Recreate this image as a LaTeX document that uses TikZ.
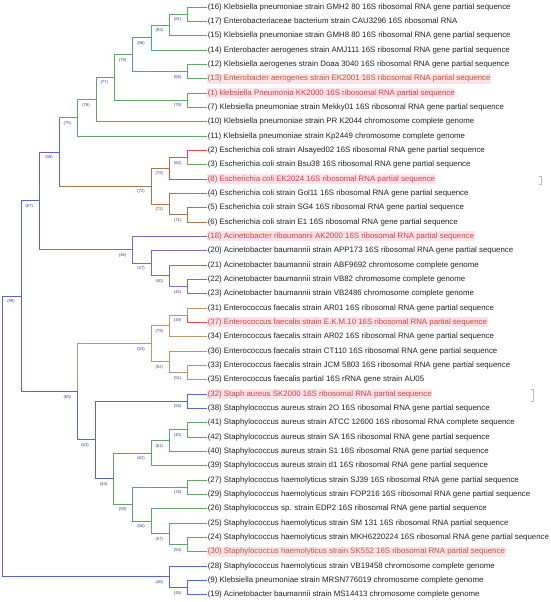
\documentclass[tikz,border=0pt]{standalone}
\usepackage{fontspec}
\setmainfont{Liberation Sans}
\newfontfamily\lsans{Liberation Sans}
\definecolor{cgreen}{RGB}{96,165,104}
\definecolor{cblue}{RGB}{86,104,205}
\definecolor{cpurple}{RGB}{128,106,190}
\definecolor{cbrown}{RGB}{168,118,78}
\definecolor{ctan}{RGB}{190,150,115}
\definecolor{cred}{RGB}{230,70,70}
\definecolor{txtblack}{RGB}{34,34,34}
\definecolor{txtred}{RGB}{224,62,62}
\definecolor{txtbrown}{RGB}{196,86,52}
\definecolor{hlpink}{RGB}{253,228,234}
\definecolor{bscol}{RGB}{60,60,170}
\newcommand{\edg}[3]{\draw[br,#3] (#1) |- (#2);}
\newcommand{\edgvh}[4]{\draw[br,#3] (#1) -- (#1 |- #2); \draw[br,#4] (#1 |- #2) -- (#2);}
\newcommand{\bsl}[2]{\node[bs] (bs#1) at ([shift={(-10,5.5)}]#1) {(#2)};}
\tikzset{
  leaf/.style={anchor=west, inner xsep=0.6pt, inner ysep=0pt, minimum height=10pt,
    font=\lsans\fontsize{7.85}{9}\selectfont, text=txtblack},
  hlr/.style={leaf, fill=hlpink, text=txtred},
  hlb/.style={leaf, fill=hlpink, text=txtbrown},
  bs/.style={font=\lsans\fontsize{4.2}{5}\selectfont, text=bscol, inner sep=0pt},
  br/.style={line width=0.9pt, line cap=rect},
  faintmark/.style={draw=gray!55, line width=0.5pt}
}
\begin{document}
\begin{tikzpicture}[x=1pt,y=-1pt]
\useasboundingbox (0,0) rectangle (550,602);
% ---------- leaves ----------
\node[leaf] (L16) at (207,7) {(16) Klebsiella pneumoniae strain GMH2 80 16S ribosomal RNA gene partial sequence};
\node[leaf] (L17) at (207,21.333) {(17) Enterobacteriaceae bacterium strain CAU3296 16S ribosomal RNA};
\node[leaf] (L15) at (207,35.667) {(15) Klebsiella pneumoniae strain GMH8 80 16S ribosomal RNA gene partial sequence};
\node[leaf] (L14) at (207,50) {(14) Enterobacter aerogenes strain AMJ111 16S ribosomal RNA gene partial sequence};
\node[leaf] (L12) at (207,64.333) {(12) Klebsiella aerogenes strain Doaa 3040 16S ribosomal RNA gene partial sequence};
\node[hlb] (L13) at (207,78.667) {(13) Enterobacter aerogenes strain EK2001 16S ribosomal RNA partial sequence};
\node[hlr] (L1) at (207,93) {(1) klebsiella Pneumonia KK2000 16S ribosomal RNA partial sequence};
\node[leaf] (L7) at (207,107.333) {(7) Klebsiella pneumoniae strain Mekky01 16S ribosomal RNA gene partial sequence};
\node[leaf] (L10) at (207,121.667) {(10) Klebsiella pneumoniae strain PR K2044 chromosome complete genome};
\node[leaf] (L11) at (207,136) {(11) Klebsiella pneumoniae strain Kp2449 chromosome complete genome};
\node[leaf] (L2) at (207,150.333) {(2) Escherichia coli strain Alsayed02 16S ribosomal RNA gene partial sequence};
\node[leaf] (L3) at (207,164.667) {(3) Escherichia coli strain Bsu38 16S ribosomal RNA gene partial sequence};
\node[hlr] (L8) at (207,179) {(8) Escherichia coli EK2024 16S ribosomal RNA partial sequence};
\node[leaf] (L4) at (207,193.333) {(4) Escherichia coli strain Gol11 16S ribosomal RNA gene partial sequence};
\node[leaf] (L5) at (207,207.667) {(5) Escherichia coli strain SG4 16S ribosomal RNA gene partial sequence};
\node[leaf] (L6) at (207,222) {(6) Escherichia coli strain E1 16S ribosomal RNA gene partial sequence};
\node[hlr] (L18) at (207,236.333) {(18) Acinetobacter ribaumanni AK2000 16S ribosomal RNA partial sequence};
\node[leaf] (L20) at (207,250.667) {(20) Acinetobacter baumannii strain APP173 16S ribosomal RNA gene partial sequence};
\node[leaf] (L21) at (207,265) {(21) Acinetobacter baumannii strain ABF9692 chromosome complete genome};
\node[leaf] (L22) at (207,279.333) {(22) Acinetobacter baumannii strain VB82 chromosome complete genome};
\node[leaf] (L23) at (207,293.667) {(23) Acinetobacter baumannii strain VB2486 chromosome complete genome};
\node[leaf] (L31) at (207,308) {(31) Enterococcus faecalis strain AR01 16S ribosomal RNA gene partial sequence};
\node[hlr] (L37) at (207,322.333) {(37) Enterococcus faecalis strain E.K.M.10 16S ribosomal RNA partial sequence};
\node[leaf] (L34) at (207,336.667) {(34) Enterococcus faecalis strain AR02 16S ribosomal RNA gene partial sequence};
\node[leaf] (L36) at (207,351) {(36) Enterococcus faecalis strain CT110 16S ribosomal RNA gene partial sequence};
\node[leaf] (L33) at (207,365.333) {(33) Enterococcus faecalis strain JCM 5803 16S ribosomal RNA gene partial sequence};
\node[leaf] (L35) at (207,379.667) {(35) Enterococcus faecalis partial 16S rRNA gene strain AU05};
\node[hlr] (L32) at (207,394) {(32) Staph aureus SK2000 16S ribosomal RNA partial sequence};
\node[leaf] (L38) at (207,408.333) {(38) Staphylococcus aureus strain 2O 16S ribosomal RNA gene partial sequence};
\node[leaf] (L41) at (207,422.667) {(41) Staphylococcus aureus strain ATCC 12600 16S ribosomal RNA complete sequence};
\node[leaf] (L42) at (207,437) {(42) Staphylococcus aureus strain SA 16S ribosomal RNA gene partial sequence};
\node[leaf] (L40) at (207,451.333) {(40) Staphylococcus aureus strain S1 16S ribosomal RNA gene partial sequence};
\node[leaf] (L39) at (207,465.667) {(39) Staphylococcus aureus strain d1 16S ribosomal RNA gene partial sequence};
\node[leaf] (L27) at (207,480) {(27) Staphylococcus haemolyticus strain SJ39 16S ribosomal RNA gene partial sequence};
\node[leaf] (L29) at (207,494.333) {(29) Staphylococcus haemolyticus strain FOP216 16S ribosomal RNA gene partial sequence};
\node[leaf] (L26) at (207,508.667) {(26) Staphylococcus sp. strain EDP2 16S ribosomal RNA gene partial sequence};
\node[leaf] (L25) at (207,523) {(25) Staphylococcus haemolyticus strain SM 131 16S ribosomal RNA partial sequence};
\node[leaf] (L24) at (207,537.333) {(24) Staphylococcus haemolyticus strain MKH6220224 16S ribosomal RNA gene partial sequence};
\node[hlb] (L30) at (207,551.667) {(30) Staphylococcus haemolyticus strain SK552 16S ribosomal RNA partial sequence};
\node[leaf] (L28) at (207,566) {(28) Staphylococcus haemolyticus strain VB19458 chromosome complete genome};
\node[leaf] (L9) at (207,580.333) {(9) Klebsiella pneumoniae strain MRSN776019 chromosome complete genome};
\node[leaf] (L19) at (207,594.667) {(19) Acinetobacter baumannii strain MS14413 chromosome complete genome};
% ---------- internal nodes ----------
\coordinate (n81) at (187.7,14.17);
\coordinate (n92) at (169.3,25.1);
\coordinate (n86) at (151,37.55);
\coordinate (n68) at (187.7,71.5);
\coordinate (n79a) at (132.7,54.53);
\coordinate (n79b) at (187.7,100.17);
\coordinate (n77) at (114.3,77.35);
\coordinate (n76) at (96,99.5);
\coordinate (n75) at (77.3,117.76);
\coordinate (n60) at (187.7,157.5);
\coordinate (n78a) at (169.3,168.25);
\coordinate (n71) at (187.7,214.83);
\coordinate (n72b) at (169.3,204.08);
\coordinate (n72a) at (151,186.17);
\coordinate (n59a) at (59,151.96);
\coordinate (n45a) at (187.7,286.5);
\coordinate (n40a) at (169.3,275.75);
\coordinate (n47) at (151,263.2);
\coordinate (n46a) at (132.7,249.77);
\coordinate (n67) at (39.3,200.87);
\coordinate (n49) at (187.7,315.17);
\coordinate (n79c) at (169.3,325.92);
\coordinate (n51) at (187.7,372.5);
\coordinate (n52) at (169.3,361.75);
\coordinate (n53) at (151,343.83);
\coordinate (n55) at (187.7,401.17);
\coordinate (n40b) at (187.7,429.83);
\coordinate (n61) at (169.3,440.58);
\coordinate (n62) at (151,453.13);
\coordinate (n78b) at (187.7,487.17);
\coordinate (n54) at (187.7,544.5);
\coordinate (n57) at (169.3,533.75);
\coordinate (n56) at (151,521.2);
\coordinate (n59b) at (132.7,504.2);
\coordinate (n44) at (113.5,478.67);
\coordinate (n63) at (95,439.92);
\coordinate (n65) at (77.3,391.88);
\coordinate (n99) at (21,296.4);
\coordinate (n45b) at (187.7,587.5);
\coordinate (n46b) at (169.3,576.75);
\coordinate (root) at (2.8,436.6);
% ---------- branches ----------
\edg{n81}{L16.west}{cgreen} \edg{n81}{L17.west}{cgreen}
\edg{n92}{n81}{cgreen} \edg{n92}{L15.west}{cgreen}
\edg{n86}{n92}{cgreen} \edg{n86}{L14.west}{cgreen}
\edg{n68}{L12.west}{cgreen} \edg{n68}{L13.west}{cgreen}
\edg{n79a}{n86}{cgreen} \edg{n79a}{n68}{cgreen}
\edg{n79b}{L1.west}{cgreen} \edg{n79b}{L7.west}{cgreen}
\edg{n77}{n79a}{cgreen} \edg{n77}{n79b}{cgreen}
\edg{n76}{n77}{cgreen} \edg{n76}{L10.west}{cgreen}
\edg{n75}{n76}{cgreen} \edg{n75}{L11.west}{cgreen}
\edg{n60}{L2.west}{cred} \edg{n60}{L3.west}{cgreen}
\edg{n78a}{n60}{cbrown} \edg{n78a}{L8.west}{cred}
\edg{n71}{L5.west}{cbrown} \edg{n71}{L6.west}{cbrown}
\edg{n72b}{L4.west}{cbrown} \edg{n72b}{n71}{cbrown}
\edg{n72a}{n78a}{cbrown} \edg{n72a}{n72b}{cbrown}
\edgvh{n59a}{n75}{cblue}{cgreen} \edgvh{n59a}{n72a}{cblue}{cbrown}
\edg{n45a}{L22.west}{cpurple} \edg{n45a}{L23.west}{cpurple}
\edg{n40a}{L21.west}{cpurple} \edg{n40a}{n45a}{cpurple}
\edg{n47}{L20.west}{cpurple} \edg{n47}{n40a}{cpurple}
\edg{n46a}{L18.west}{cpurple} \edg{n46a}{n47}{cpurple}
\edg{n67}{n59a}{cblue} \edgvh{n67}{n46a}{cblue}{cpurple}
\edg{n49}{L31.west}{ctan} \edg{n49}{L37.west}{cred}
\edg{n79c}{n49}{ctan} \edg{n79c}{L34.west}{ctan}
\edg{n51}{L33.west}{ctan} \edg{n51}{L35.west}{ctan}
\edg{n52}{L36.west}{ctan} \edg{n52}{n51}{ctan}
\edg{n53}{n79c}{ctan} \edg{n53}{n52}{ctan}
\edg{n55}{L32.west}{cblue} \edg{n55}{L38.west}{cblue}
\edg{n40b}{L41.west}{cgreen} \edg{n40b}{L42.west}{cgreen}
\edg{n61}{n40b}{cgreen} \edg{n61}{L40.west}{cgreen}
\edg{n62}{n61}{cgreen} \edg{n62}{L39.west}{cgreen}
\edg{n78b}{L27.west}{cgreen} \edg{n78b}{L29.west}{cgreen}
\edg{n54}{L24.west}{cgreen} \edg{n54}{L30.west}{cgreen}
\edg{n57}{L25.west}{cgreen} \edg{n57}{n54}{cgreen}
\edg{n56}{L26.west}{cgreen} \edg{n56}{n57}{cgreen}
\edg{n59b}{n78b}{cgreen} \edg{n59b}{n56}{cgreen}
\edg{n44}{n62}{cgreen} \edg{n44}{n59b}{cgreen}
\edg{n63}{n55}{cblue} \edg{n63}{n44}{cblue}
\edgvh{n65}{n53}{ctan}{ctan} \edg{n65}{n63}{cblue}
\edg{n99}{n67}{cblue} \edg{n99}{n65}{cblue}
\edg{n45b}{L9.west}{cblue} \edg{n45b}{L19.west}{cblue}
\edg{n46b}{L28.west}{cblue} \edg{n46b}{n45b}{cblue}
\edg{root}{n99}{cblue} \edg{root}{n46b}{cblue}
% ---------- bootstrap values ----------
\bsl{n81}{81} \bsl{n92}{92} \bsl{n86}{86} \bsl{n68}{68} \bsl{n79a}{79}
\bsl{n79b}{79} \bsl{n77}{77} \bsl{n76}{76} \bsl{n75}{75}
\bsl{n60}{60} \bsl{n78a}{78} \bsl{n71}{71} \bsl{n72b}{72} \bsl{n72a}{72} \bsl{n59a}{59}
\bsl{n45a}{45} \bsl{n40a}{40} \bsl{n47}{47} \bsl{n46a}{46} \bsl{n67}{67}
\bsl{n49}{49} \bsl{n79c}{79} \bsl{n51}{51} \bsl{n52}{52} \bsl{n53}{53}
\bsl{n55}{55} \bsl{n40b}{40} \bsl{n61}{61} \bsl{n62}{62} \bsl{n78b}{78}
\bsl{n54}{54} \bsl{n57}{57} \bsl{n56}{56} \bsl{n59b}{59} \bsl{n44}{44}
\bsl{n63}{63} \bsl{n65}{65} \bsl{n99}{99} \bsl{n45b}{45} \bsl{n46b}{46}
% ---------- faint marks ----------
\draw[faintmark] (539,176.5) -- (541,176.5) -- (541,184.5) -- (539,184.5);
\draw[faintmark] (531,389.5) -- (533,389.5) -- (533,401) -- (531,401);
\end{tikzpicture}
\end{document}
